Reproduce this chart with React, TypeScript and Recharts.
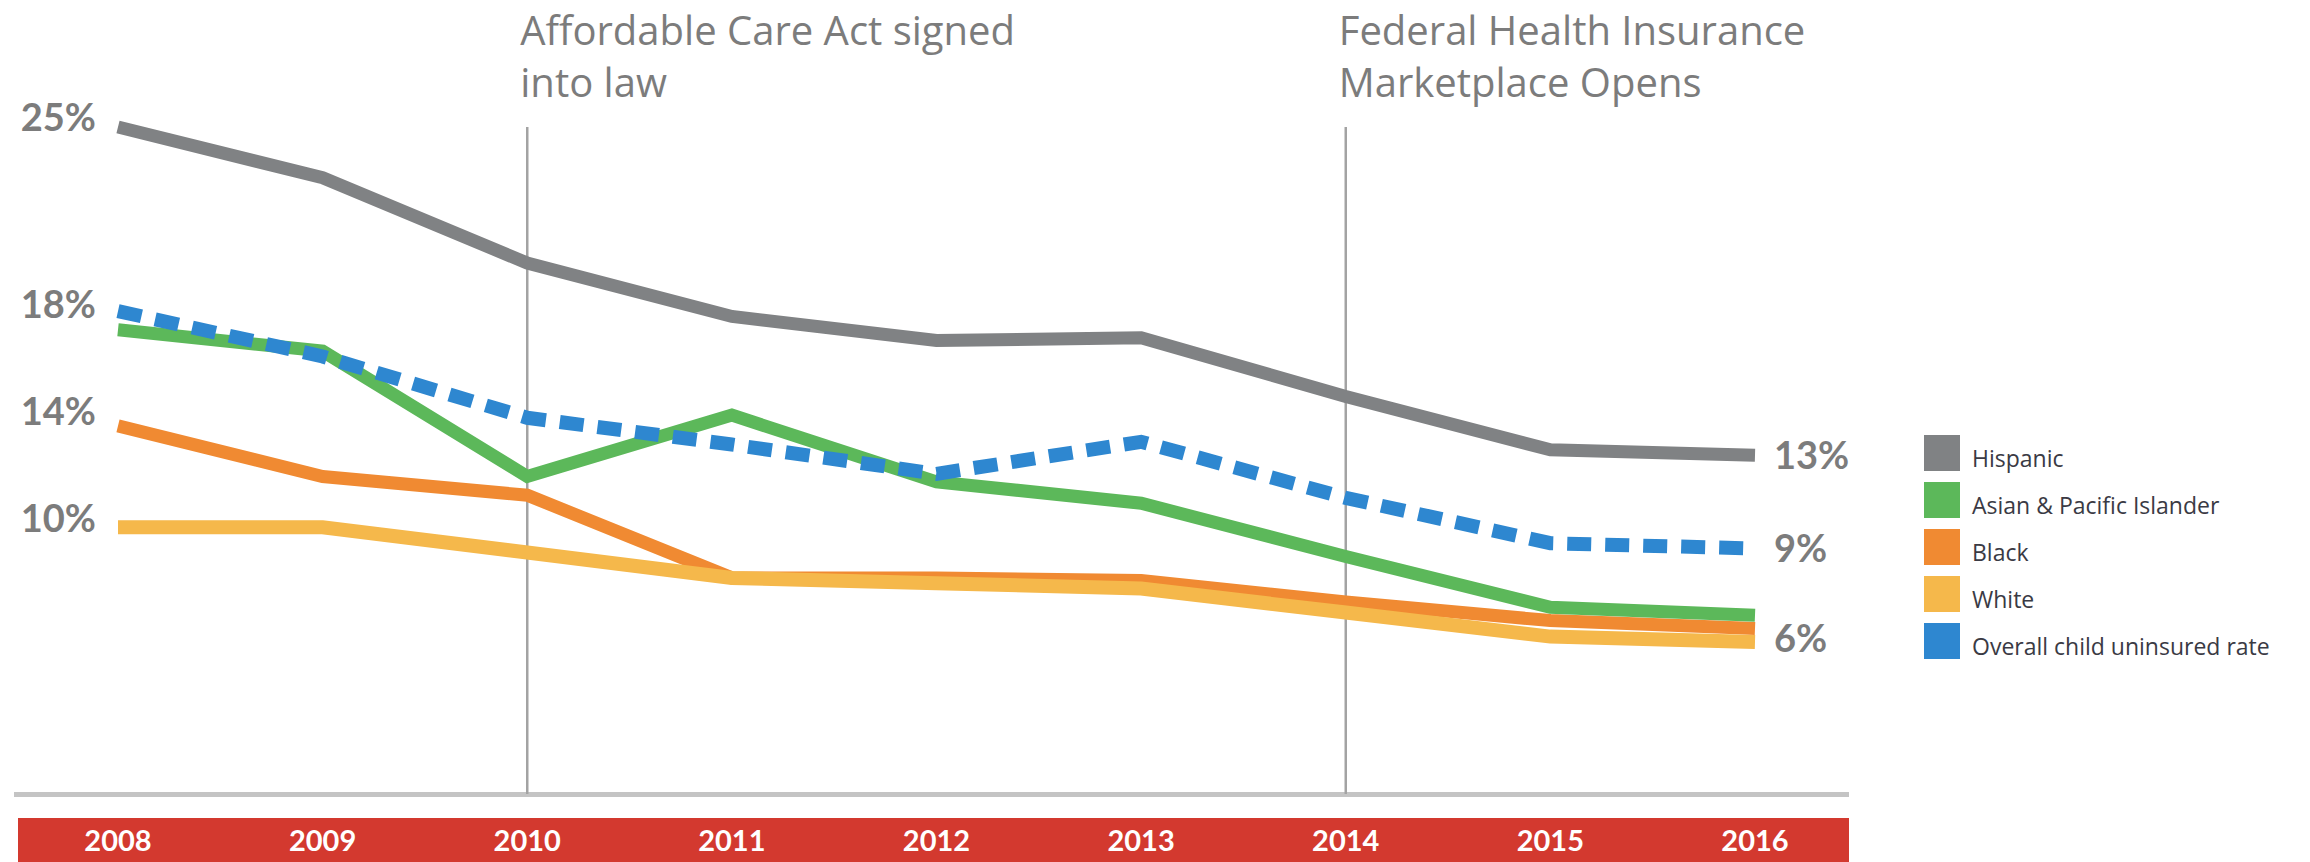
import React from 'react';
import { LineChart, Line, XAxis, YAxis, ReferenceLine, Legend, LabelList } from 'recharts';

const years = ['2008', '2009', '2010', '2011', '2012', '2013', '2014', '2015', '2016'];
const hispanic = [25.0, 23.1, 19.9, 17.9, 17.0, 17.1, 14.9, 12.9, 12.7];
const asianPacific = [17.4, 16.6, 11.9, 14.2, 11.7, 10.9, 8.9, 7.0, 6.7];
const black = [13.8, 11.9, 11.2, 8.1, 8.1, 8.0, 7.2, 6.5, 6.2];
const white = [10.0, 10.0, 9.05, 8.1, 7.9, 7.7, 6.8, 5.9, 5.7];
const overall = [18.1, 16.4, 14.1, 13.1, 12.0, 13.2, 11.1, 9.4, 9.2];

const leftTicks = [25, 18, 14, 10];
const legendOrder = ['Hispanic', 'Asian & Pacific Islander', 'Black', 'White', 'Overall child uninsured rate'];

const data = years.map((year, i) => ({
  year,
  hispanic: hispanic[i],
  asianPacific: asianPacific[i],
  black: black[i],
  white: white[i],
  overall: overall[i],
}));

const FONT = 'Lato, "Open Sans", sans-serif';
const SANS = '"Open Sans", sans-serif';
const GRAY_TEXT = '#7c7c7c';
const LAST = years.length - 1;

// two-line annotation hanging above a reference line
const eventLabel = (lines: string[]) => (props: any) => {
  const { viewBox } = props;
  const x = viewBox.x - 7;
  return (
    <text x={x} y={viewBox.y - 82} fill={GRAY_TEXT} fontSize={40} fontFamily={SANS}>
      {lines.map((l, i) => (
        <tspan key={i} x={x} dy={i === 0 ? 0 : 52}>{l}</tspan>
      ))}
    </text>
  );
};

// rounded value printed right after the last point of a series
const endLabel = (dy: number) => (props: any) => {
  const { x, y, index, value } = props;
  if (index !== LAST) return null;
  return (
    <text x={x + 19} y={y + dy} dy="0.36em" fill={GRAY_TEXT} fontSize={38} fontWeight={700} fontFamily={FONT}>
      {`${Math.round(value)}%`}
    </text>
  );
};

const renderLegend = (props: any) => {
  const items = [...(props.payload || [])].sort(
    (a: any, b: any) => legendOrder.indexOf(a.value) - legendOrder.indexOf(b.value)
  );
  return (
    <div style={{ fontFamily: SANS }}>
      {items.map((entry: any) => (
        <div key={entry.value} style={{ display: 'flex', alignItems: 'center', height: 36, marginBottom: 11 }}>
          <div style={{ width: 36, height: 36, background: entry.color, flex: 'none' }} />
          <span style={{ marginLeft: 12, marginTop: 10, fontSize: 23, color: '#3a3a44', whiteSpace: 'nowrap' }}>{entry.value}</span>
        </div>
      ))}
    </div>
  );
};

export default function App() {
  return (
    <div style={{ position: 'absolute', left: 0, top: 0, width: 2310, height: 862, background: '#fff' }}>
      {/* baseline and red year band */}
      <div style={{ position: 'absolute', left: 14, top: 792, width: 1835, height: 5, background: '#c4c4c4' }} />
      <div style={{ position: 'absolute', left: 18, top: 818, width: 1831, height: 44, background: '#d3392f' }} />
      <div style={{ position: 'absolute', left: 0, top: 0 }}>
        <LineChart width={2310} height={862} data={data} margin={{ top: 127, right: 555, bottom: 0, left: 0 }}>
          <XAxis
            dataKey="year"
            height={68}
            axisLine={false}
            tickLine={false}
            tickSize={0}
            tickMargin={36}
            tick={{ fill: '#ffffff', fontSize: 29, fontWeight: 700, fontFamily: FONT }}
          />
          <YAxis
            width={118}
            domain={[0, 25]}
            ticks={leftTicks}
            axisLine={false}
            tickLine={false}
            tickSize={0}
            tickMargin={22}
            tickFormatter={(v) => `${v}%`}
            tick={{ fill: GRAY_TEXT, fontSize: 38, fontWeight: 700, fontFamily: FONT, dy: -9 }}
          />
          <ReferenceLine x="2010" stroke="#a3a3a3" strokeWidth={2.5}
            label={eventLabel(['Affordable Care Act signed', 'into law'])} />
          <ReferenceLine x="2014" stroke="#a3a3a3" strokeWidth={2.5}
            label={eventLabel(['Federal Health Insurance', 'Marketplace Opens'])} />
          <Line type="linear" dataKey="black" name="Black" stroke="#f08a32" strokeWidth={13}
            dot={false} activeDot={false} isAnimationActive={false} />
          <Line type="linear" dataKey="white" name="White" stroke="#f5b84b" strokeWidth={14}
            dot={false} activeDot={false} isAnimationActive={false}>
            <LabelList dataKey="white" content={endLabel(-4)} />
          </Line>
          <Line type="linear" dataKey="asianPacific" name="Asian & Pacific Islander" stroke="#5cb85a" strokeWidth={13}
            dot={false} activeDot={false} isAnimationActive={false} />
          <Line type="linear" dataKey="hispanic" name="Hispanic" stroke="#808284" strokeWidth={13}
            dot={false} activeDot={false} isAnimationActive={false}>
            <LabelList dataKey="hispanic" content={endLabel(0)} />
          </Line>
          <Line type="linear" dataKey="overall" name="Overall child uninsured rate" stroke="#2e87d0" strokeWidth={14}
            strokeDasharray="24 14" dot={false} activeDot={false} isAnimationActive={false}>
            <LabelList dataKey="overall" content={endLabel(0)} />
          </Line>
          <Legend content={renderLegend} layout="vertical" align="center" verticalAlign="middle"
            wrapperStyle={{ position: 'absolute', left: 1924, top: 435, width: 380 }} />
        </LineChart>
      </div>
    </div>
  );
}
